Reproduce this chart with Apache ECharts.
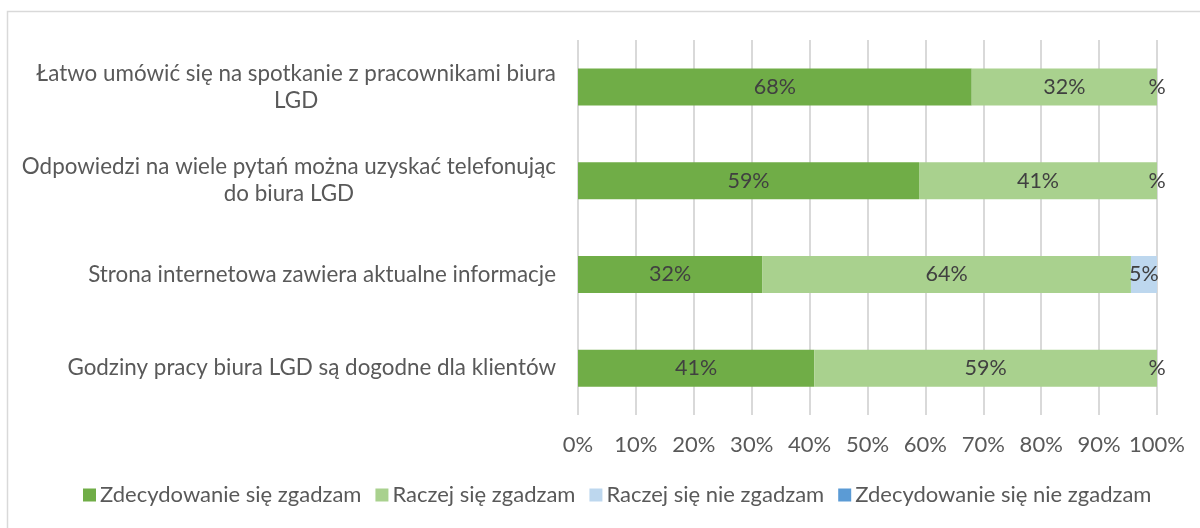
<!DOCTYPE html>
<html>
<head>
<meta charset="utf-8">
<script src="https://cdn.jsdelivr.net/npm/echarts@6/dist/echarts.min.js"></script>
<style>
html,body{margin:0;padding:0;background:#fff;}
#c{width:1200px;height:528px;}
</style>
</head>
<body>
<div id="c"></div>
<script>
var categories = [
  "Łatwo umówić się na spotkanie z pracownikami biura\nLGD",
  "Odpowiedzi na wiele pytań można uzyskać telefonując\ndo biura LGD",
  "Strona internetowa zawiera aktualne informacje",
  "Godziny pracy biura LGD są dogodne dla klientów"
];
var seriesNames = [
  "Zdecydowanie się zgadzam",
  "Raczej się zgadzam",
  "Raczej się nie zgadzam",
  "Zdecydowanie się nie zgadzam"
];
var zdecydowanieTak = [68, 58.9, 31.8, 40.8];
var raczejTak = [32, 41.1, 63.7, 59.2];
var raczejNie = [0, 0, 4.5, 0];
var zdecydowanieNie = [0, 0, 0, 0];
var xTicks = [0, 10, 20, 30, 40, 50, 60, 70, 80, 90, 100];

var colors = ["#70AD47", "#A9D18E", "#BDD7EE", "#5B9BD5"];
var FONT = "Lato";
var FS = 22;
var CAT_FS = 22.4;

function lbl(showZeroPct) {
  return {
    show: true,
    position: "inside",
    color: "#404040",
    fontFamily: FONT,
    fontSize: 21.5,
    formatter: function (p) {
      if (p.value === 0) return showZeroPct ? "%" : "";
      return Math.round(p.value) + "%";
    }
  };
}

var dataArrays = [zdecydowanieTak, raczejTak, raczejNie, zdecydowanieNie];
var series = dataArrays.map(function (arr, i) {
  return {
    name: seriesNames[i],
    type: "bar",
    stack: "total",
    barWidth: 37,
    data: arr.slice().reverse(),
    itemStyle: { color: colors[i] },
    label: lbl(i === 2),
    emphasis: { disabled: true }
  };
});

var chart = echarts.init(document.getElementById("c"), null, { renderer: "canvas" });
chart.setOption({
  animation: false,
  backgroundColor: "#fff",
  textStyle: { fontFamily: FONT },
  graphic: [{
    type: "rect",
    shape: { x: 7.5, y: 11.5, width: 1400, height: 700 },
    style: { fill: "none", stroke: "#d9d9d9", lineWidth: 1.5 },
    silent: true,
    z: -10
  }],
  grid: { left: 578, right: 43, top: 40, bottom: 113, containLabel: false },
  xAxis: {
    type: "value",
    min: xTicks[0],
    max: xTicks[xTicks.length - 1],
    interval: 10,
    axisLine: { show: false },
    axisTick: { show: false },
    splitLine: { show: true, lineStyle: { color: "#d9d9d9", width: 2 } },
    axisLabel: {
      color: "#595959",
      fontFamily: FONT,
      fontSize: FS,
      margin: 19,
      formatter: "{value}%"
    }
  },
  yAxis: {
    type: "category",
    data: categories.slice().reverse(),
    axisLine: { show: false },
    axisTick: { show: false },
    splitLine: { show: false },
    axisLabel: {
      color: "#595959",
      fontFamily: FONT,
      fontSize: CAT_FS,
      margin: 22,
      align: "right",
      formatter: function (v) {
        return v.split("\n").map(function (s) { return "{c|" + s + "}"; }).join("\n");
      },
      rich: {
        c: { align: "center", color: "#595959", fontFamily: FONT, fontSize: CAT_FS, lineHeight: 27 }
      }
    }
  },
  legend: {
    bottom: 17,
    left: 78,
    itemWidth: 13,
    itemHeight: 13,
    itemGap: 14,
    icon: "rect",
    textStyle: { color: "#595959", fontFamily: FONT, fontSize: FS, padding: [0, 0, 0, -1] },
    data: seriesNames
  },
  series: series
});
</script>
</body>
</html>
